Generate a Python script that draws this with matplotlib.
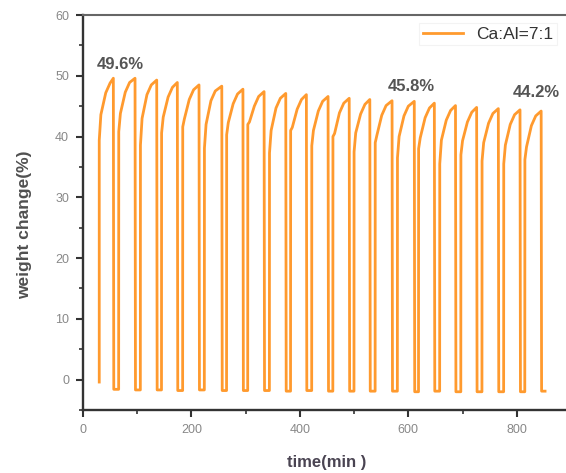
import matplotlib
matplotlib.use("Agg")
import matplotlib.pyplot as plt
from matplotlib.ticker import MultipleLocator

plt.rcParams['font.family'] = ['Liberation Sans', 'DejaVu Sans']

# cycle data (min / weight %)
rise_t = [30, 66, 106, 145, 184, 224, 265, 304, 344, 383, 422,
          461, 500, 539, 580, 619, 658, 697, 736, 776, 815]
peak_t = [56, 96, 136, 174, 214, 256, 295, 334, 374, 412, 452,
          491, 529, 570, 611, 648, 687, 726, 766, 806, 845]
jump_val = [39.4, 40.8, 38.6, 40.6, 41.6, 38.1, 40.3, 42.0, 37.3, 41.0, 38.5,
            40.0, 37.5, 39.0, 36.5, 38.0, 35.5, 37.0, 36.0, 35.5, 36.2]
knee_val = [43.6, 43.8, 43.0, 43.2, 42.9, 42.0, 42.3, 42.4, 41.0, 41.5, 41.0,
            40.5, 40.6, 40.2, 40.0, 39.8, 39.4, 39.3, 39.0, 38.6, 38.3]
mid_val = [47.2, 47.3, 46.9, 46.5, 46.1, 45.9, 45.4, 45.0, 44.7, 44.5, 44.2,
           43.9, 43.7, 43.5, 43.4, 43.1, 42.7, 42.4, 42.2, 42.0, 41.8]
shoulder_val = [48.8, 48.9, 48.5, 48.1, 47.7, 47.5, 47.0, 46.6, 46.3, 46.1, 45.8,
                45.5, 45.3, 45.1, 45.0, 44.7, 44.3, 44.0, 43.8, 43.6, 43.4]
peak_val = [49.6, 49.6, 49.3, 48.9, 48.5, 48.3, 47.8, 47.4, 47.1, 46.9, 46.6,
            46.3, 46.1, 45.9, 45.8, 45.5, 45.1, 44.8, 44.6, 44.4, 44.2]
bottom_val = [-1.6, -1.7, -1.7, -1.8, -1.7, -1.8, -1.8, -1.8, -1.9, -1.8, -1.9,
              -1.9, -1.9, -1.9, -2.0, -1.9, -2.0, -2.0, -2.0, -2.0, -1.9]
start_val = -0.4
end_t = 853

labeled = [0, 14, 20]
label_offsets = [(5, 10), (-2, 10.5), (-3.5, 13)]

# build the stepped trace
t, w = [rise_t[0]], [start_val]
for i in range(len(rise_t)):
    r = rise_t[i]
    t += [r, r + 3, r + 12, r + 20, peak_t[i]]
    w += [jump_val[i], knee_val[i], mid_val[i], shoulder_val[i], peak_val[i]]
    nxt = rise_t[i + 1] if i + 1 < len(rise_t) else end_t
    t += [peak_t[i] + 0.8, nxt - 0.8]
    w += [bottom_val[i], bottom_val[i]]
    if i + 1 < len(rise_t):
        t.append(nxt - 0.2)
        w.append(bottom_val[i])

fig = plt.figure(figsize=(5.66, 4.73), dpi=100)
ax = fig.add_axes([0.1466, 0.1332, 0.8622, 0.835])

ax.plot(t, w, color='#FF9A2E', lw=2.0, label='Ca:Al=7:1')

for k, (dx, dy) in zip(labeled, label_offsets):
    ax.annotate(f"{peak_val[k]}%", xy=(peak_t[k], peak_val[k]),
                xytext=(dx, dy), textcoords='offset points',
                ha='center', va='center', fontsize=12, fontweight='bold',
                color='#555555')

ax.set_xlim(0, 900)
ax.set_ylim(-5, 60)
ax.xaxis.set_major_locator(MultipleLocator(200))
ax.xaxis.set_minor_locator(MultipleLocator(100))
ax.yaxis.set_major_locator(MultipleLocator(10))
ax.yaxis.set_minor_locator(MultipleLocator(5))

for side in ['left', 'bottom']:
    ax.spines[side].set_linewidth(1.7)
    ax.spines[side].set_color('#333333')
ax.spines['top'].set_linewidth(1.5)
ax.spines['top'].set_color('#666666')
ax.spines['right'].set_visible(False)

ax.tick_params(which='major', direction='out', length=5, width=1.5,
               color='#333333', labelsize=9, labelcolor='#888888', pad=5)
ax.tick_params(which='minor', direction='out', length=3, width=1.2,
               color='#333333')
ax.tick_params(top=False, right=False)

ax.set_xlabel('time(min )', fontsize=12, fontweight='bold', color='#4a4452',
              labelpad=14)
ax.set_ylabel('weight change(%)', fontsize=12.5, fontweight='bold',
              color='#505050')
ax.yaxis.set_label_coords(-0.105, 0.47)

leg = ax.legend(loc='upper right', bbox_to_anchor=(557 / 566, 1 - 23 / 473),
                bbox_transform=fig.transFigure, fontsize=12.5, frameon=True,
                fancybox=False, handlelength=2.3, borderpad=0.2,
                borderaxespad=0)
leg.get_frame().set_edgecolor('#f0f0f0')
leg.get_frame().set_linewidth(0.8)
for txt in leg.get_texts():
    txt.set_color('#333333')

fig.savefig('out.png', dpi=100)
